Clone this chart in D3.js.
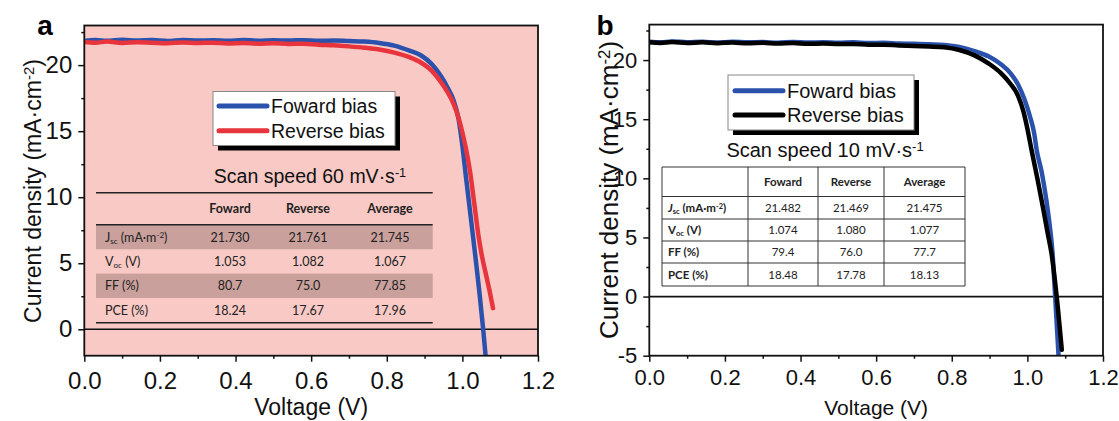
<!DOCTYPE html>
<html>
<head>
<meta charset="utf-8">
<script src="https://cdn.jsdelivr.net/npm/d3@7"></script>
<style>
  body { margin: 0; background: #fff; }
  svg { display: block; }
</style>
</head>
<body>
<script>
//size of the whole picture
var width = 1119;
var height = 421;

//panel a : scan speed 60 mV/s
var fwdA_V = [0, 0.03, 0.06, 0.1, 0.14, 0.18, 0.22, 0.26, 0.3, 0.34, 0.38, 0.42, 0.46, 0.5, 0.54, 0.58, 0.62, 0.66, 0.7, 0.74, 0.78, 0.82, 0.86,
              0.89, 0.92, 0.94, 0.96, 0.977, 0.99, 1.0, 1.01, 1.02, 1.034, 1.045, 1.055, 1.062];
var fwdA_J = [21.82, 21.9, 21.84, 21.92, 21.86, 21.9, 21.83, 21.91, 21.86, 21.88, 21.84, 21.9, 21.85, 21.88, 21.86, 21.89, 21.84, 21.86, 21.82, 21.78, 21.68, 21.48, 21.1,
              20.75, 20.05, 19.3, 18.35, 17.3, 15.9, 13.9, 11.4, 9.0, 5.6, 2.8, 0.0, -2.2];
var revA_V = [0, 0.03, 0.06, 0.1, 0.14, 0.18, 0.22, 0.26, 0.3, 0.34, 0.38, 0.42, 0.46, 0.5, 0.54, 0.58, 0.62, 0.66, 0.7, 0.74, 0.78, 0.82, 0.86,
              0.89, 0.92, 0.94, 0.96, 0.977, 0.99, 1.0, 1.01, 1.02, 1.032, 1.043, 1.052, 1.062, 1.072, 1.081];
var revA_J = [21.75, 21.7, 21.78, 21.68, 21.74, 21.7, 21.66, 21.72, 21.68, 21.7, 21.64, 21.68, 21.62, 21.66, 21.6, 21.62, 21.55, 21.5, 21.42, 21.32, 21.18, 20.95, 20.6,
              20.2, 19.55, 18.85, 18.0, 17.05, 16.0, 14.9, 13.6, 12.0, 9.4, 7.0, 5.5, 4.2, 2.9, 1.6];

//panel b : scan speed 10 mV/s
var fwdB_V = [0, 0.03, 0.06, 0.1, 0.14, 0.18, 0.22, 0.26, 0.3, 0.34, 0.38, 0.42, 0.46, 0.5, 0.54, 0.58, 0.62, 0.66, 0.7, 0.74, 0.78,
              0.82, 0.86, 0.898, 0.93, 0.955, 0.975, 0.992, 1.008, 1.018, 1.0245, 1.038, 1.05, 1.058, 1.066, 1.0735, 1.083];
var fwdB_J = [21.55, 21.5, 21.58, 21.5, 21.54, 21.48, 21.55, 21.5, 21.52, 21.47, 21.53, 21.48, 21.5, 21.46, 21.5, 21.44, 21.46, 21.4, 21.38, 21.33, 21.27,
              21.1, 20.75, 20.3, 19.65, 18.9, 17.95, 16.7, 15.1, 13.8, 12.4, 10.5, 8.2, 6.3, 3.9, 0.0, -5.3];
var revB_V = [0, 0.03, 0.06, 0.1, 0.14, 0.18, 0.22, 0.26, 0.3, 0.34, 0.38, 0.42, 0.46, 0.5, 0.54, 0.58, 0.62, 0.66, 0.7, 0.74, 0.78,
              0.82, 0.86, 0.898, 0.93, 0.955, 0.975, 0.99, 1.0, 1.011, 1.027, 1.042, 1.054, 1.064, 1.0775, 1.091];
var revB_J = [21.5, 21.45, 21.52, 21.44, 21.5, 21.43, 21.48, 21.42, 21.46, 21.4, 21.44, 21.38, 21.4, 21.35, 21.36, 21.3, 21.3, 21.24, 21.2, 21.15, 21.08,
              20.85, 20.4, 19.7, 18.9, 18.0, 17.0, 15.6, 14.2, 12.4, 9.9, 7.4, 5.3, 3.6, 0.0, -4.5];

//tick values
var xTicks = [0, 0.2, 0.4, 0.6, 0.8, 1.0, 1.2];
var xMinor = [0.1, 0.3, 0.5, 0.7, 0.9, 1.1];
var yTicksA = [0, 5, 10, 15, 20];
var yMinorA = [2.5, 7.5, 12.5, 17.5, 22.5];
var yTicksB = [-5, 0, 5, 10, 15, 20];
var yMinorB = [-2.5, 2.5, 7.5, 12.5, 17.5, 22.5];

//legend + table text
var seriesNames = ["Foward bias", "Reverse bias"];
var tableCols = ["Foward", "Reverse", "Average"];
var rowLabels = ["J_{sc} (mA·m^{-2})", "V_{oc} (V)", "FF (%)", "PCE (%)"];
var tableA = [["21.730", "21.761", "21.745"], ["1.053", "1.082", "1.067"], ["80.7", "75.0", "77.85"], ["18.24", "17.67", "17.96"]];
var tableB = [["21.482", "21.469", "21.475"], ["1.074", "1.080", "1.077"], ["79.4", "76.0", "77.7"], ["18.48", "17.78", "18.13"]];

//colours
var blue = "#2a52ad";
var red = "#e8343c";
var pink = "#f8c9c5";
var shade = "#c9a09c";

var font = "'Liberation Sans', Arial, sans-serif";
var tfont = "Lato, 'Open Sans', sans-serif";

var svg = d3.select("body").append("svg")
    .attr("width", width)
    .attr("height", height);

//writes text with _{sub} and ^{sup} parts into a text element
function richText(sel, str, italicFirst) {
    var parts = str.split(/(_\{[^}]*\}|\^\{[^}]*\})/);
    var shift = 0;
    parts.forEach(function (p, i) {
        if (p === "") return;
        var t = sel.append("tspan");
        if (p[0] == "_" || p[0] == "^") {
            var d = p[0] == "_" ? 0.25 : -0.45;
            t.text(p.slice(2, -1)).attr("font-size", "65%").attr("dy", (d - shift) + "em");
            shift = d;
        } else {
            if (shift != 0) { t.attr("dy", (-shift * 0.65) + "em"); shift = 0; }
            if (italicFirst && i == 0) {
                t.text(p[0]).attr("font-style", "italic");
                sel.append("tspan").text(p.slice(1));
            } else {
                t.text(p);
            }
        }
    });
}

function drawPanel(cfg) {
    var x = d3.scaleLinear().domain([0, 1.2]).range([cfg.left, cfg.right]);
    var y = d3.scaleLinear().domain(cfg.yDomain).range([cfg.bottom, cfg.top]);
    var g = svg.append("g");

    //plot background
    g.append("rect")
        .attr("x", cfg.left).attr("y", cfg.top)
        .attr("width", cfg.right - cfg.left).attr("height", cfg.bottom - cfg.top)
        .attr("fill", cfg.bg);

    //clip for curves
    g.append("clipPath").attr("id", cfg.id + "clip")
        .append("rect")
        .attr("x", cfg.left).attr("y", cfg.top)
        .attr("width", cfg.right - cfg.left).attr("height", cfg.bottom - cfg.top);

    //table and legend are behind the curves
    if (cfg.boxed) drawGridTable(g, cfg); else drawLineTable(g, cfg);
    drawLegend(g, cfg);

    //zero line
    g.append("line")
        .attr("x1", cfg.left).attr("x2", cfg.right)
        .attr("y1", y(0)).attr("y2", y(0))
        .attr("stroke", "#111").attr("stroke-width", 1.6);

    //curves
    var line = d3.line()
        .x(function (d) { return x(d[0]); })
        .y(function (d) { return y(d[1]); })
        .curve(d3.curveMonotoneX);

    cfg.series.forEach(function (s) {
        g.append("path")
            .datum(d3.zip(s.V, s.J))
            .attr("d", line)
            .attr("clip-path", "url(#" + cfg.id + "clip)")
            .attr("fill", "none")
            .attr("stroke", s.color)
            .attr("stroke-width", 4.5)
            .attr("stroke-linecap", "round")
            .attr("stroke-linejoin", "round");
    });

    //axes (plain hyphen for negative numbers, like the original)
    var xAxis = g.append("g")
        .attr("transform", "translate(0," + cfg.bottom + ")")
        .call(d3.axisBottom(x).tickValues(xTicks).tickFormat(function (d) { return d.toFixed(1); }).tickSize(6).tickPadding(cfg.xPad));
    g.append("g")
        .attr("transform", "translate(0," + cfg.bottom + ")")
        .call(d3.axisBottom(x).tickValues(xMinor).tickFormat("").tickSize(3));
    var yAxis = g.append("g")
        .attr("transform", "translate(" + cfg.left + ",0)")
        .call(d3.axisLeft(y).tickValues(cfg.yTicks).tickFormat(function (d) { return String(d); }).tickSize(6).tickPadding(cfg.yPad));
    g.append("g")
        .attr("transform", "translate(" + cfg.left + ",0)")
        .call(d3.axisLeft(y).tickValues(cfg.yMinor).tickFormat("").tickSize(3));

    g.selectAll(".domain").remove();
    g.selectAll(".tick line").attr("stroke", "#111").attr("stroke-width", 1.5);
    xAxis.selectAll("text").attr("font-family", font).attr("font-size", cfg.tickSize).attr("fill", "#111");
    yAxis.selectAll("text").attr("font-family", font).attr("font-size", cfg.tickSize).attr("fill", "#111");

    //frame
    g.append("rect")
        .attr("x", cfg.left).attr("y", cfg.top)
        .attr("width", cfg.right - cfg.left).attr("height", cfg.bottom - cfg.top)
        .attr("fill", "none").attr("stroke", "#111").attr("stroke-width", 1.8);

    //axis titles
    g.append("text")
        .attr("x", (cfg.left + cfg.right) / 2).attr("y", 415)
        .attr("text-anchor", "middle")
        .attr("font-family", font).attr("font-size", cfg.titleSize).attr("fill", "#111")
        .text("Voltage (V)");

    var yt = g.append("text")
        .attr("transform", "translate(" + cfg.yTitleX + "," + cfg.yTitleY + ") rotate(-90)")
        .attr("text-anchor", "middle")
        .attr("font-family", font).attr("font-size", cfg.yTitleSize).attr("fill", "#111");
    richText(yt, "Current density (mA·cm^{-2})");

    //panel letter
    g.append("text")
        .attr("x", cfg.letterX).attr("y", 35)
        .attr("text-anchor", "middle")
        .attr("font-family", font).attr("font-weight", "bold").attr("font-size", 28).attr("fill", "#000")
        .text(cfg.letter);
}

function drawLegend(g, cfg) {
    var L = cfg.legend;
    g.append("rect")
        .attr("x", L.x + 5).attr("y", L.y + 5).attr("width", L.w).attr("height", L.h)
        .attr("fill", "#000");
    g.append("rect")
        .attr("x", L.x).attr("y", L.y).attr("width", L.w).attr("height", L.h)
        .attr("fill", "#fff").attr("stroke", "#888").attr("stroke-width", 1);
    cfg.series.forEach(function (s, i) {
        var cy = L.row0 + i * L.rowGap;
        g.append("line")
            .attr("x1", L.x1).attr("x2", L.x2).attr("y1", cy).attr("y2", cy)
            .attr("stroke", s.color).attr("stroke-width", 5).attr("stroke-linecap", "round");
        g.append("text")
            .attr("x", L.x2 + 4).attr("y", cy).attr("dy", "0.36em")
            .attr("font-family", font).attr("font-size", L.size).attr("fill", "#111")
            .text(seriesNames[i]);
    });
    var st = g.append("text")
        .attr("x", cfg.scan.x).attr("y", cfg.scan.y)
        .attr("text-anchor", "middle")
        .attr("font-family", font).attr("font-size", L.size).attr("fill", "#111");
    richText(st, cfg.scan.text);
}

//table with horizontal rules and shaded rows (panel a)
function drawLineTable(g, cfg) {
    var T = cfg.table;
    [1, 3].forEach(function (r) {
        g.append("rect")
            .attr("x", T.x0).attr("y", T.rows[r]).attr("width", T.x1 - T.x0).attr("height", T.rows[r + 1] - T.rows[r])
            .attr("fill", shade);
    });
    [T.rows[0], T.rows[1], T.rows[5]].forEach(function (yy) {
        g.append("line")
            .attr("x1", T.x0).attr("x2", T.x1).attr("y1", yy).attr("y2", yy)
            .attr("stroke", "#222").attr("stroke-width", 1.4);
    });
    tableText(g, cfg, T.colX, false);
}

//fully ruled table (panel b)
function drawGridTable(g, cfg) {
    var T = cfg.table;
    g.append("rect")
        .attr("x", T.cols[0]).attr("y", T.rows[0])
        .attr("width", T.cols[4] - T.cols[0]).attr("height", T.rows[5] - T.rows[0])
        .attr("fill", "#fff");
    T.rows.forEach(function (yy) {
        g.append("line")
            .attr("x1", T.cols[0]).attr("x2", T.cols[4]).attr("y1", yy).attr("y2", yy)
            .attr("stroke", "#333").attr("stroke-width", 1);
    });
    T.cols.forEach(function (xx) {
        g.append("line")
            .attr("x1", xx).attr("x2", xx).attr("y1", T.rows[0]).attr("y2", T.rows[5])
            .attr("stroke", "#333").attr("stroke-width", 1);
    });
    var colX = [1, 2, 3].map(function (i) { return (T.cols[i] + T.cols[i + 1]) / 2; });
    tableText(g, cfg, colX, true);
}

function tableText(g, cfg, colX, boldLabels) {
    var T = cfg.table;
    tableCols.forEach(function (c, i) {
        g.append("text")
            .attr("x", colX[i]).attr("y", (T.rows[0] + T.rows[1]) / 2).attr("dy", "0.36em")
            .attr("text-anchor", "middle")
            .attr("font-family", tfont).attr("font-weight", "bold").attr("font-size", T.size).attr("fill", "#222")
            .text(c);
    });
    cfg.tableData.forEach(function (row, r) {
        var cy = (T.rows[r + 1] + T.rows[r + 2]) / 2;
        var lt = g.append("text")
            .attr("x", T.labelX).attr("y", cy).attr("dy", "0.36em")
            .attr("font-family", tfont).attr("font-size", T.size).attr("fill", "#222")
            .attr("font-weight", boldLabels ? "bold" : "normal");
        richText(lt, rowLabels[r], boldLabels && r == 0);
        row.forEach(function (v, i) {
            g.append("text")
                .attr("x", colX[i]).attr("y", cy).attr("dy", "0.36em")
                .attr("text-anchor", "middle")
                .attr("font-family", tfont).attr("font-size", T.size).attr("fill", "#222")
                .text(v);
        });
    });
}

drawPanel({
    id: "a", letter: "a", letterX: 45,
    left: 84.3, right: 538, top: 25.5, bottom: 355.7,
    yDomain: [-2, 23], yTicks: yTicksA, yMinor: yMinorA,
    bg: pink, xPad: 10, yPad: 6, tickSize: 24, titleSize: 23,
    yTitleX: 41, yTitleY: 191, yTitleSize: 23,
    series: [{ V: fwdA_V, J: fwdA_J, color: blue }, { V: revA_V, J: revA_J, color: red }],
    legend: { x: 213, y: 91.5, w: 182, h: 54, x1: 219, x2: 267, row0: 106, rowGap: 24.7, size: 19.5 },
    scan: { x: 310, y: 183, text: "Scan speed 60 mV·s^{-1}" },
    boxed: false,
    table: { x0: 96, x1: 432.7, rows: [192.7, 224.8, 249.2, 273.6, 298, 322.7], colX: [230, 308, 390], labelX: 105, size: 12.5 },
    tableData: tableA
});

drawPanel({
    id: "b", letter: "b", letterX: 605,
    left: 649.3, right: 1103, top: 24.6, bottom: 355.7,
    yDomain: [-5, 23], yTicks: yTicksB, yMinor: yMinorB,
    bg: "#fff", xPad: 8, yPad: 6, tickSize: 22, titleSize: 21,
    yTitleX: 618, yTitleY: 190, yTitleSize: 26,
    series: [{ V: fwdB_V, J: fwdB_J, color: blue }, { V: revB_V, J: revB_J, color: "#000" }],
    legend: { x: 728, y: 75, w: 186, h: 55, x1: 735, x2: 783, row0: 90.7, rowGap: 24.3, size: 20 },
    scan: { x: 825, y: 157, text: "Scan speed 10 mV·s^{-1}" },
    boxed: true,
    table: { cols: [662, 748, 818, 884, 965], rows: [167, 196.5, 219, 241, 263, 286], labelX: 668, size: 11.5 },
    tableData: tableB
});
</script>
</body>
</html>
